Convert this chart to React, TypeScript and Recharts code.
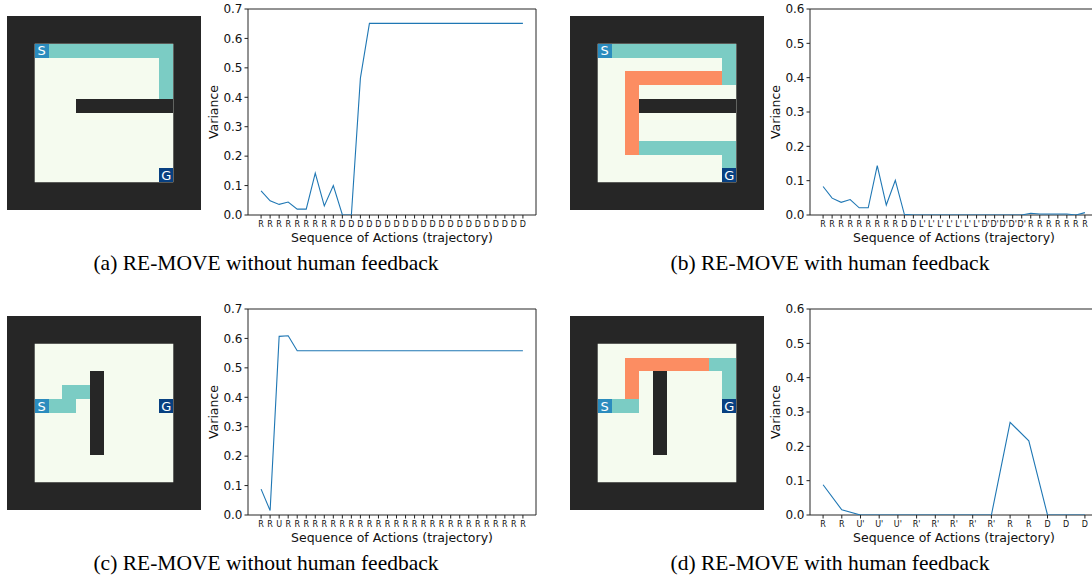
import React from 'react';
import { LineChart, Line, XAxis, YAxis, ReferenceArea, ComposedChart } from 'recharts';

const FONT = '"DejaVu Sans", Verdana, sans-serif';
const SERIF = '"Liberation Serif", "Times New Roman", serif';

// mazes: 10x10 inner grid, drawn inside a 2-cell wall border
// . free, # wall, t path, o path changed by human feedback, S start, G goal
const mazeA = [
  'Sttttttttt',
  '.........t',
  '.........t',
  '.........t',
  '...#######',
  '..........',
  '..........',
  '..........',
  '..........',
  '.........G',
];
const mazeB = [
  'Sttttttttt',
  '.........t',
  '..ooooooot',
  '..o.......',
  '..o#######',
  '..o.......',
  '..o.......',
  '..ottttttt',
  '.........t',
  '.........G',
];
const mazeC = [
  '..........',
  '..........',
  '....#.....',
  '..tt#.....',
  'Stt.#....G',
  '....#.....',
  '....#.....',
  '....#.....',
  '..........',
  '..........',
];
const mazeD = [
  '..........',
  '..oooooott',
  '..o.#....t',
  '..o.#....t',
  'Stt.#....G',
  '....#.....',
  '....#.....',
  '....#.....',
  '..........',
  '..........',
];

// trajectories and variance per step
const actionsA = [
  'R', 'R', 'R', 'R', 'R', 'R', 'R', 'R', 'R', 'D',
  'D', 'D', 'D', 'D', 'D', 'D', 'D', 'D', 'D', 'D',
  'D', 'D', 'D', 'D', 'D', 'D', 'D', 'D', 'D', 'D',
];
const varianceA = [
  0.082, 0.048, 0.036, 0.044, 0.020, 0.020, 0.142, 0.031, 0.100, 0.001,
  0.0, 0.465, 0.651, 0.651, 0.651, 0.651, 0.651, 0.651, 0.651, 0.651,
  0.651, 0.651, 0.651, 0.651, 0.651, 0.651, 0.651, 0.651, 0.651, 0.651,
];

const actionsB = [
  'R', 'R', 'R', 'R', 'R', 'R', 'R', 'R', 'R', 'D',
  'D', "L'", "L'", "L'", "L'", "L'", "L'", "L'", "D'", "D'",
  "D'", "D'", "D'", 'R', 'R', 'R', 'R', 'R', 'R', 'R',
];
const varianceB = [
  0.083, 0.049, 0.037, 0.045, 0.021, 0.021, 0.144, 0.029, 0.101, 0.002,
  0.0, 0.0, 0.0, 0.0, 0.0, 0.0, 0.0, 0.0, 0.0, 0.0,
  0.0, 0.0, 0.0, 0.005, 0.003, 0.003, 0.003, 0.003, 0.0, 0.007,
];

const actionsC = [
  'R', 'R', 'U', 'R', 'R', 'R', 'R', 'R', 'R', 'R',
  'R', 'R', 'R', 'R', 'R', 'R', 'R', 'R', 'R', 'R',
  'R', 'R', 'R', 'R', 'R', 'R', 'R', 'R', 'R', 'R',
];
const varianceC = [
  0.088, 0.015, 0.607, 0.609, 0.558, 0.558, 0.558, 0.558, 0.558, 0.558,
  0.558, 0.558, 0.558, 0.558, 0.558, 0.558, 0.558, 0.558, 0.558, 0.558,
  0.558, 0.558, 0.558, 0.558, 0.558, 0.558, 0.558, 0.558, 0.558, 0.558,
];

const actionsD = ['R', 'R', "U'", "U'", "U'", "R'", "R'", "R'", "R'", "R'", 'R', 'R', 'D', 'D', 'D'];
const varianceD = [0.088, 0.015, 0.0, 0.0, 0.0, 0.0, 0.0, 0.0, 0.0, 0.0, 0.270, 0.216, 0.0, 0.0, 0.0];

const ticks07 = [0, 0.1, 0.2, 0.3, 0.4, 0.5, 0.6, 0.7];
const ticks06 = [0, 0.1, 0.2, 0.3, 0.4, 0.5, 0.6];

const DARK = '#262626';
const LIGHT = '#f5fbef';
const cellColors: Record<string, string> = {
  '#': DARK,
  t: '#7bccc4',
  o: '#fc8d62',
  S: '#2b8cbe',
  G: '#084081',
};

function Maze({ rows, left, top }: { rows: string[]; left: number; top: number }) {
  // merge equal neighbours in a row into one rectangle, free cells are the background
  const runs: { r: number; c0: number; c1: number; ch: string }[] = [];
  rows.forEach((row, r) => {
    let start = 0;
    for (let c = 1; c <= row.length; c++) {
      const ch = row[start];
      if (c === row.length || row[c] !== ch || ch === 'S' || ch === 'G') {
        if (ch !== '.') runs.push({ r, c0: start, c1: c, ch });
        start = c;
      }
    }
  });

  return (
    <div style={{ position: 'absolute', left, top }}>
      <ComposedChart width={194} height={194} margin={{ top: 0, right: 0, bottom: 0, left: 0 }} data={[{ x: 0, y: 0 }]}>
        <XAxis type="number" dataKey="x" domain={[0, 14]} hide />
        <YAxis type="number" dataKey="y" domain={[0, 14]} reversed hide />
        <ReferenceArea x1={0} x2={14} y1={0} y2={14} fill={DARK} fillOpacity={1} stroke="none" />
        <ReferenceArea x1={2} x2={12} y1={2} y2={12} fill={LIGHT} fillOpacity={1} stroke="none" />
        {runs.map((run, k) => {
          const fill = cellColors[run.ch];
          const isMark = run.ch === 'S' || run.ch === 'G';
          return (
            <ReferenceArea
              key={k}
              x1={run.c0 + 2}
              x2={run.c1 + 2}
              y1={run.r + 2}
              y2={run.r + 3}
              fill={fill}
              fillOpacity={1}
              stroke="none"
              shapeRendering="crispEdges"
              label={isMark ? { value: run.ch, position: 'center', fill: '#fff', fontSize: 13, fontFamily: FONT } : undefined}
            />
          );
        })}
      </ComposedChart>
    </div>
  );
}

const varianceLabel = () => (
  <text
    x={13.5}
    y={112}
    transform="rotate(-90, 13.5, 112)"
    textAnchor="middle"
    dominantBaseline="central"
    fontSize={12.5}
    fontFamily={FONT}
    fill="#111"
  >
    Variance
  </text>
);

function VarianceChart({
  labels,
  values,
  yMax,
  yTicks,
  left,
  top,
}: {
  labels: string[];
  values: number[];
  yMax: number;
  yTicks: number[];
  left: number;
  top: number;
}) {
  const data = values.map((v, i) => ({ i, v }));
  const pad = (values.length - 1) * 0.05;
  const lo = -pad;
  const hi = values.length - 1 + pad;

  return (
    <div style={{ position: 'absolute', left: left - 48, top: top - 9 }}>
      <LineChart width={345} height={250} data={data} margin={{ top: 9, right: 9, bottom: 5, left: 0 }}>
        <XAxis
          type="number"
          dataKey="i"
          domain={[lo, hi]}
          allowDataOverflow
          ticks={data.map((d) => d.i)}
          interval={0}
          tickFormatter={(i: number) => labels[Math.round(i)]}
          tick={{ fontSize: 8, fill: '#111', fontFamily: FONT }}
          tickSize={3.5}
          tickMargin={2.5}
          tickLine={{ stroke: '#222' }}
          axisLine={false}
          height={30}
          label={{
            value: 'Sequence of Actions (trajectory)',
            position: 'insideBottom',
            offset: 3,
            fontSize: 12.5,
            fill: '#111',
            fontFamily: FONT,
          }}
        />
        <YAxis
          type="number"
          domain={[0, yMax]}
          allowDataOverflow
          ticks={yTicks}
          interval={0}
          tickFormatter={(v: number) => v.toFixed(1)}
          tick={{ fontSize: 12, fill: '#111', fontFamily: FONT }}
          tickSize={3.5}
          tickMargin={2}
          tickLine={{ stroke: '#222' }}
          axisLine={false}
          width={48}
          label={{ content: varianceLabel }}
        />
        <ReferenceArea x1={lo} x2={hi} y1={0} y2={yMax} fill="none" stroke="#262626" strokeWidth={1} ifOverflow="visible" />
        <Line dataKey="v" stroke="#1f77b4" strokeWidth={1.1} dot={false} isAnimationActive={false} />
      </LineChart>
    </div>
  );
}

const captionStyle = (center: number, top: number): React.CSSProperties => ({
  position: 'absolute',
  left: center - 250,
  width: 500,
  top,
  textAlign: 'center',
  fontFamily: SERIF,
  fontSize: 21.5,
  lineHeight: '24px',
  color: '#000',
  whiteSpace: 'nowrap',
});

export default function App() {
  return (
    <div style={{ position: 'absolute', left: 0, top: 0, width: 1092, height: 578, overflow: 'hidden', background: '#fff' }}>
      <Maze rows={mazeA} left={7} top={16} />
      <VarianceChart labels={actionsA} values={varianceA} yMax={0.7} yTicks={ticks07} left={248} top={9} />
      <Maze rows={mazeB} left={570} top={16} />
      <VarianceChart labels={actionsB} values={varianceB} yMax={0.6} yTicks={ticks06} left={810} top={9} />
      <div style={captionStyle(266, 251)}>(a) RE-MOVE without human feedback</div>
      <div style={captionStyle(830, 251)}>(b) RE-MOVE with human feedback</div>

      <Maze rows={mazeC} left={7} top={316} />
      <VarianceChart labels={actionsC} values={varianceC} yMax={0.7} yTicks={ticks07} left={248} top={309} />
      <Maze rows={mazeD} left={570} top={316} />
      <VarianceChart labels={actionsD} values={varianceD} yMax={0.6} yTicks={ticks06} left={810} top={309} />
      <div style={captionStyle(266, 551)}>(c) RE-MOVE without human feedback</div>
      <div style={captionStyle(830, 551)}>(d) RE-MOVE with human feedback</div>
    </div>
  );
}
